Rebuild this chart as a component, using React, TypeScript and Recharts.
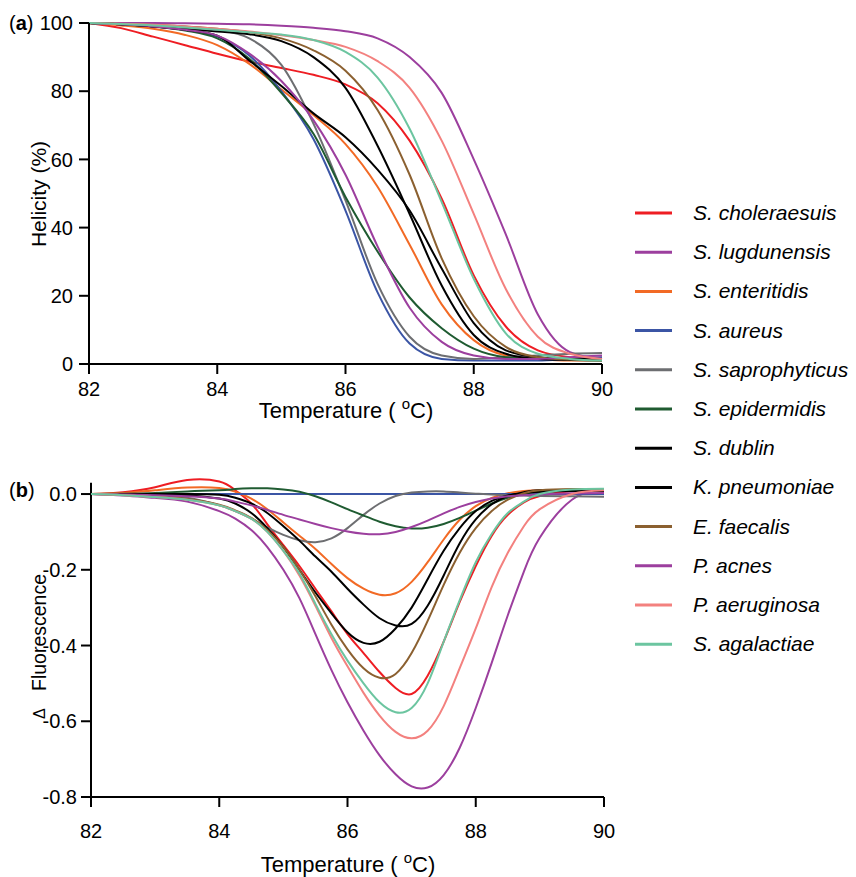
import { LineChart, Line, XAxis, YAxis, ReferenceLine } from 'recharts';

// temperature grid (°C)
const TEMPS_A = [82, 82.5, 83, 83.5, 84, 84.5, 85, 85.5, 86, 86.5, 87, 87.5, 88, 88.5, 89, 89.5, 90];
const TEMPS_B = [
  82, 82.5, 83, 83.5, 84, 84.25, 84.5, 84.75, 85, 85.25, 85.5, 85.75, 86, 86.25, 86.5, 86.75, 87, 87.25,
  87.5, 87.75, 88, 88.25, 88.5, 88.75, 89, 89.5, 90,
];

const X_TICKS = [82, 84, 86, 88, 90];
const HELIX_TICKS = [0, 20, 40, 60, 80, 100];
const DF_TICKS = [-0.8, -0.6, -0.4, -0.2, 0];

const NAMES = [
  'S. choleraesuis', 'S. lugdunensis', 'S. enteritidis', 'S. aureus', 'S. saprophyticus', 'S. epidermidis',
  'S. dublin', 'K. pneumoniae', 'E. faecalis', 'P. acnes', 'P. aeruginosa', 'S. agalactiae',
];
const COLORS = [
  '#ee1d23', '#9c3f9e', '#f26a25', '#3b55a5', '#6d6e71', '#1f5b31',
  '#000000', '#000000', '#8b6030', '#9c3f9e', '#f3817f', '#6cc5a0',
];

// (a) helicity, %
const HELIX_CHOLERAESUIS = [100, 98.5, 96, 93.5, 91, 88.7, 86.8, 84.8, 82, 76.5, 65.5, 48.5, 26, 11, 4, 2, 1.5];
const HELIX_LUGDUNENSIS = [100, 100, 100, 99.9, 99.8, 99.6, 99.2, 98.6, 97.6, 95.5, 90, 79.5, 60, 38, 14.5, 3.5, 1.5];
const HELIX_ENTERITIDIS = [100, 99.3, 98.3, 96.5, 93.5, 88, 80.5, 73, 64.5, 52, 35, 17.5, 7, 2.5, 1.5, 1, 1];
const HELIX_AUREUS = [100, 99.6, 99, 98, 96, 90.5, 80, 66, 45, 21, 6, 1.5, 1, 1, 1, 1.5, 2];
const HELIX_SAPROPHYTICUS = [100, 99.7, 99.4, 98.9, 98, 95.5, 87.7, 70.5, 48, 23.5, 8, 2.5, 1.5, 2, 2.5, 3, 3.2];
const HELIX_EPIDERMIDIS = [100, 99.6, 99, 97.8, 95.5, 89.5, 79.5, 67.5, 49, 33, 19.5, 10.5, 4.5, 2, 1.5, 1.5, 1.5];
const HELIX_DUBLIN = [100, 99.6, 99, 98.3, 97.5, 96.7, 94.7, 90, 81, 64, 44, 23, 8.5, 3, 1.5, 1.2, 1];
const HELIX_PNEUMONIAE = [100, 99.6, 99, 98, 96.3, 89, 81.5, 73.5, 66.5, 57, 45, 28, 12, 4, 2, 1.5, 1.5];
const HELIX_FAECALIS = [100, 99.7, 99.4, 99, 98.3, 97.3, 95.5, 92, 86, 74.5, 55.5, 31, 14, 5, 2, 1.3, 1];
const HELIX_ACNES = [100, 99.6, 99, 98, 96.3, 91, 83, 71.5, 55.5, 34.5, 16.5, 6.5, 2.5, 1.5, 1.5, 2, 2.5];
const HELIX_AERUGINOSA = [100, 99.8, 99.5, 99, 98.3, 97.5, 96.4, 95, 93, 88.8, 81, 65.5, 44, 22, 8, 3, 1.5];
const HELIX_AGALACTIAE = [100, 99.7, 99.3, 98.7, 98, 97.3, 96.6, 95, 91.5, 84, 69, 47.5, 25, 9, 3, 1.5, 1];

// (b) delta fluorescence
const DF_CHOLERAESUIS = [
  0, 0.005, 0.018, 0.037, 0.033, 0.01, -0.025, -0.08, -0.135, -0.19, -0.25, -0.31, -0.37, -0.42, -0.47, -0.512,
  -0.528, -0.48, -0.39, -0.285, -0.19, -0.11, -0.055, -0.022, -0.005, 0.008, 0.01,
];
const DF_LUGDUNENSIS = [
  0, -0.004, -0.01, -0.02, -0.045, -0.065, -0.095, -0.14, -0.2, -0.275, -0.37, -0.465, -0.55, -0.625, -0.69,
  -0.74, -0.772, -0.775, -0.742, -0.67, -0.565, -0.445, -0.32, -0.205, -0.115, -0.015, 0.01,
];
const DF_ENTERITIDIS = [
  0, 0.003, 0.01, 0.017, 0.016, 0.006, -0.012, -0.04, -0.075, -0.11, -0.145, -0.185, -0.222, -0.25, -0.266,
  -0.262, -0.232, -0.18, -0.12, -0.068, -0.032, -0.01, 0.002, 0.008, 0.01, 0.01, 0.01,
];
const DF_AUREUS = [
  0, 0, 0, 0, 0, 0, 0, 0, 0, 0, 0, 0, 0, 0, 0, 0, 0, 0, 0, 0, 0, 0, 0, 0, 0, 0, 0,
];
const DF_SAPROPHYTICUS = [
  0, -0.001, -0.004, -0.01, -0.03, -0.045, -0.065, -0.088, -0.108, -0.122, -0.127, -0.117, -0.09, -0.055,
  -0.025, -0.005, 0.004, 0.007, 0.007, 0.004, 0.001, -0.001, -0.003, -0.004, -0.005, -0.006, -0.007,
];
const DF_EPIDERMIDIS = [
  0, 0.001, 0.003, 0.007, 0.01, 0.013, 0.015, 0.015, 0.012, 0.006, -0.006, -0.022, -0.04, -0.057, -0.073,
  -0.085, -0.091, -0.089, -0.079, -0.063, -0.044, -0.025, -0.01, 0, 0.006, 0.009, 0.01,
];
const DF_DUBLIN = [
  0, 0, 0, 0, -0.002, -0.01, -0.025, -0.05, -0.085, -0.123, -0.165, -0.205, -0.25, -0.292, -0.328, -0.347,
  -0.343, -0.295, -0.215, -0.13, -0.067, -0.027, -0.005, 0.005, 0.01, 0.01, 0.01,
];
const DF_PNEUMONIAE = [
  0, 0, 0, -0.003, -0.012, -0.025, -0.05, -0.09, -0.14, -0.2, -0.26, -0.315, -0.365, -0.393, -0.39, -0.355,
  -0.3, -0.225, -0.15, -0.09, -0.045, -0.018, -0.004, 0.003, 0.006, 0.008, 0.008,
];
const DF_FAECALIS = [
  0, -0.002, -0.006, -0.013, -0.028, -0.043, -0.063, -0.095, -0.14, -0.2, -0.27, -0.345, -0.41, -0.46, -0.485,
  -0.475, -0.42, -0.335, -0.24, -0.155, -0.09, -0.045, -0.015, 0.002, 0.01, 0.013, 0.013,
];
const DF_ACNES = [
  0, -0.001, -0.003, -0.006, -0.012, -0.02, -0.03, -0.042, -0.055, -0.067, -0.079, -0.09, -0.099, -0.105,
  -0.106, -0.1, -0.087, -0.07, -0.051, -0.034, -0.021, -0.012, -0.006, -0.003, -0.001, 0.002, 0.003,
];
const DF_AERUGINOSA = [
  0, -0.003, -0.008, -0.015, -0.03, -0.045, -0.065, -0.1, -0.15, -0.215, -0.295, -0.38, -0.455, -0.525, -0.585,
  -0.628, -0.645, -0.625, -0.56, -0.46, -0.355, -0.245, -0.155, -0.085, -0.04, 0, 0.01,
];
const DF_AGALACTIAE = [
  0, -0.003, -0.008, -0.015, -0.03, -0.045, -0.065, -0.1, -0.15, -0.21, -0.29, -0.37, -0.44, -0.5, -0.55,
  -0.576, -0.565, -0.5, -0.39, -0.28, -0.18, -0.105, -0.05, -0.02, 0, 0.012, 0.014,
];

const HELIX = [
  HELIX_CHOLERAESUIS, HELIX_LUGDUNENSIS, HELIX_ENTERITIDIS, HELIX_AUREUS, HELIX_SAPROPHYTICUS, HELIX_EPIDERMIDIS,
  HELIX_DUBLIN, HELIX_PNEUMONIAE, HELIX_FAECALIS, HELIX_ACNES, HELIX_AERUGINOSA, HELIX_AGALACTIAE,
];
const DF = [
  DF_CHOLERAESUIS, DF_LUGDUNENSIS, DF_ENTERITIDIS, DF_AUREUS, DF_SAPROPHYTICUS, DF_EPIDERMIDIS,
  DF_DUBLIN, DF_PNEUMONIAE, DF_FAECALIS, DF_ACNES, DF_AERUGINOSA, DF_AGALACTIAE,
];

const SERIES = NAMES.map((name, i) => ({ key: `s${i}`, name, color: COLORS[i] }));

const rowsA = TEMPS_A.map((t, i) => {
  const row: Record<string, number> = { t };
  SERIES.forEach((s, j) => (row[s.key] = HELIX[j][i]));
  return row;
});
const rowsB = TEMPS_B.map((t, i) => {
  const row: Record<string, number> = { t };
  SERIES.forEach((s, j) => (row[s.key] = DF[j][i]));
  return row;
});

const FONT = '"Liberation Sans", Arial, Helvetica, sans-serif';
const axisStyle = { stroke: '#000', strokeWidth: 2 };
const tickStyle = { fontSize: 20, fill: '#000' };

function renderLines(curve: 'monotone' | 'natural') {
  return SERIES.map((s) => (
    <Line
      key={s.key}
      type={curve}
      dataKey={s.key}
      name={s.name}
      stroke={s.color}
      strokeWidth={2}
      dot={false}
      isAnimationActive={false}
    />
  ));
}

function TempTitle({ x, y }: { x: number; y: number }) {
  return (
    <text x={x} y={y} textAnchor="middle" fontSize={22} fill="#000">
      <tspan>Temperature ( </tspan>
      <tspan fontSize={15} dy={-9}>o</tspan>
      <tspan dy={9}>C)</tspan>
    </text>
  );
}

export default function App() {
  return (
    <div style={{ position: 'absolute', left: 0, top: 0, width: 856, height: 877, background: '#fff', fontFamily: FONT }}>
      {/* (a) helicity */}
      <div style={{ position: 'absolute', left: 0, top: 0 }}>
        <LineChart width={620} height={430} data={rowsA} margin={{ top: 23, right: 18, bottom: 10, left: 29 }}>
          <XAxis
            dataKey="t"
            type="number"
            domain={[82, 90]}
            ticks={X_TICKS}
            height={56}
            tickSize={10}
            tickMargin={8}
            tick={tickStyle}
            axisLine={axisStyle}
            tickLine={axisStyle}
          />
          <YAxis
            domain={[0, 100]}
            ticks={HELIX_TICKS}
            width={60}
            tickSize={10}
            tickMargin={6}
            tick={tickStyle}
            axisLine={axisStyle}
            tickLine={axisStyle}
          />
          {renderLines('monotone')}
        </LineChart>
      </div>

      {/* (b) derivative */}
      <div style={{ position: 'absolute', left: 0, top: 460 }}>
        <LineChart width={620} height={417} data={rowsB} margin={{ top: 17, right: 16, bottom: 10, left: 31 }}>
          <XAxis
            dataKey="t"
            type="number"
            domain={[82, 90]}
            ticks={X_TICKS}
            height={70}
            tickSize={10}
            tickMargin={17}
            tick={tickStyle}
            axisLine={axisStyle}
            tickLine={axisStyle}
          />
          <YAxis
            domain={[-0.8, 0.045]}
            ticks={DF_TICKS}
            width={60}
            tickSize={10}
            tickMargin={4}
            tick={tickStyle}
            tickFormatter={(v: number) => v.toFixed(1)}
            axisLine={false}
            tickLine={axisStyle}
          />
          {/* the printed axis stops at +0.03 while the red hump rises a little above it */}
          <ReferenceLine
            segment={[{ x: 82, y: -0.8 }, { x: 82, y: 0.03 }]}
            stroke="#000"
            strokeWidth={2}
          />
          {renderLines('natural')}
        </LineChart>
      </div>

      {/* titles, panel letters and legend */}
      <svg width={856} height={877} style={{ position: 'absolute', left: 0, top: 0, pointerEvents: 'none' }}>
        <text x={9} y={30} fontSize={20} fill="#000">
          (<tspan fontWeight="bold">a</tspan>)
        </text>
        <text x={9} y={497} fontSize={20} fill="#000">
          (<tspan fontWeight="bold">b</tspan>)
        </text>
        <text transform="translate(46,194) rotate(-90)" textAnchor="middle" fontSize={21} fill="#000">
          Helicity (%)
        </text>
        <text transform="translate(45,719) rotate(-90)" fontSize={16} fill="#000">
          Δ
        </text>
        <text transform="translate(46,691) rotate(-90)" fontSize={19.5} fill="#000">
          Fluorescence
        </text>
        <TempTitle x={346} y={418} />
        <TempTitle x={348} y={872} />

        {SERIES.map((s, i) => {
          const y = 213 + i * 39.2;
          return (
            <g key={s.key}>
              <line x1={635} x2={672} y1={y} y2={y} stroke={s.color} strokeWidth={3} />
              <text x={693} y={y + 7} fontSize={21} fontStyle="italic" fill="#000">
                {s.name}
              </text>
            </g>
          );
        })}
      </svg>
    </div>
  );
}
